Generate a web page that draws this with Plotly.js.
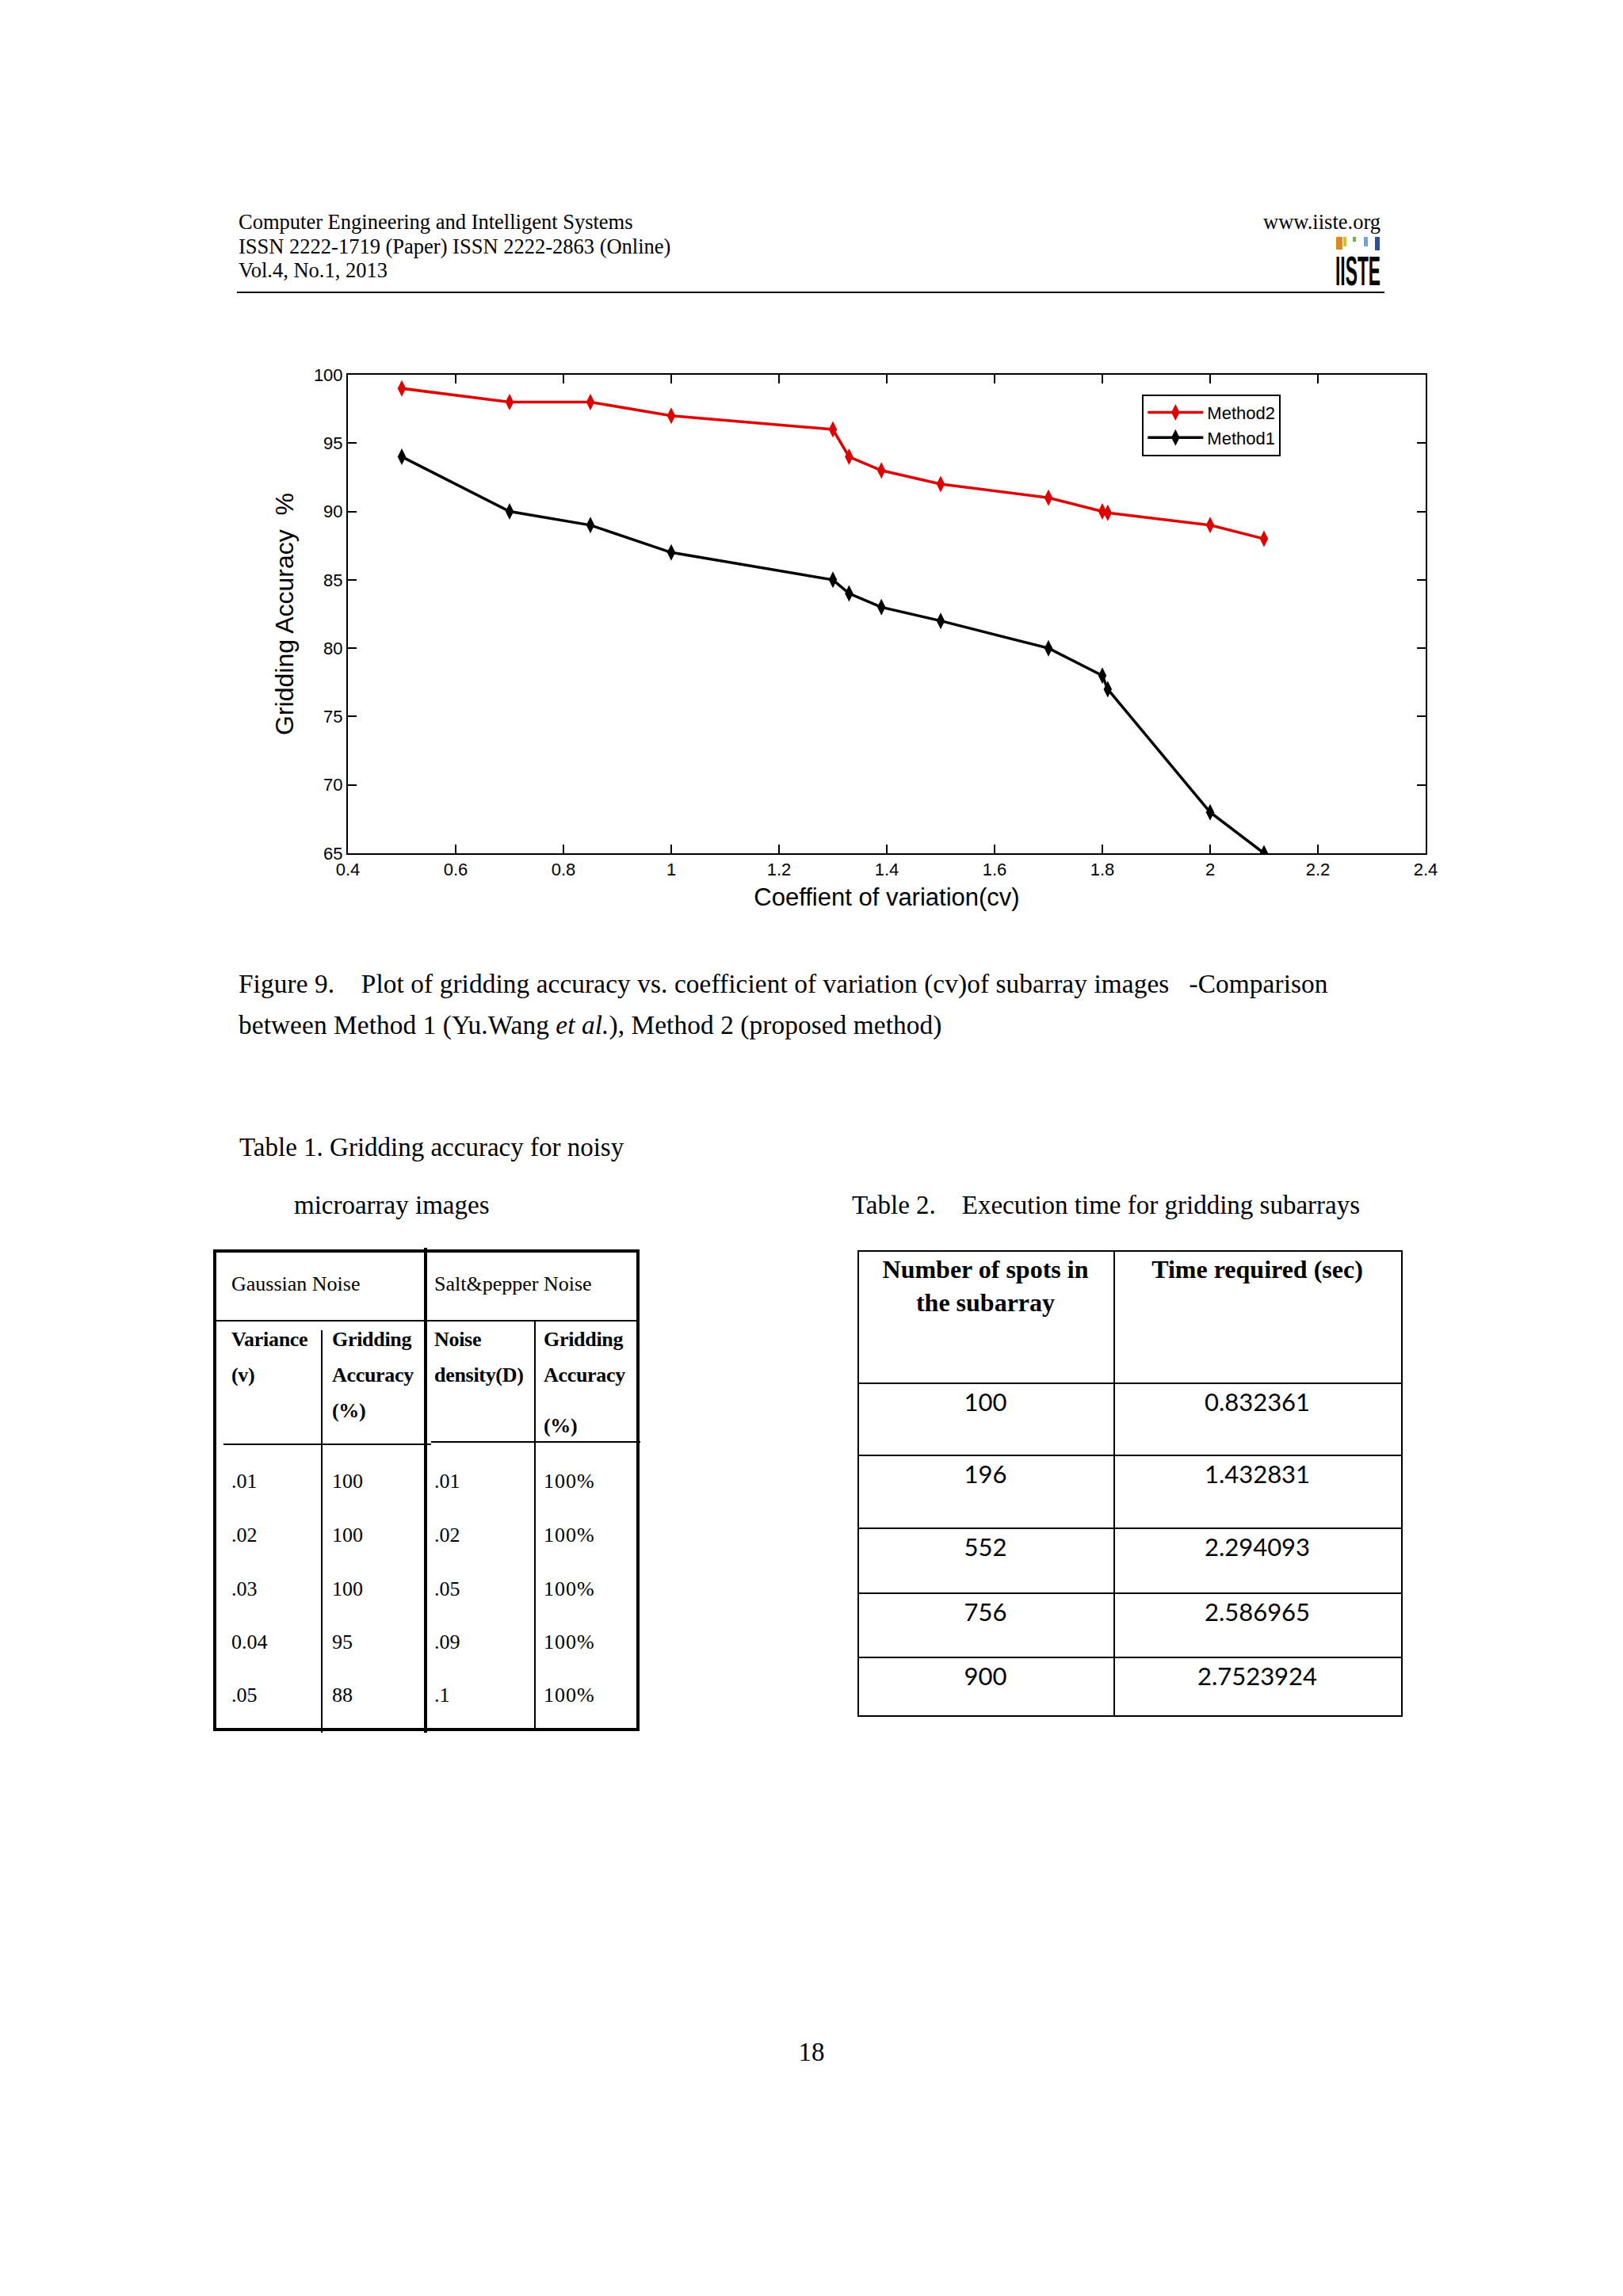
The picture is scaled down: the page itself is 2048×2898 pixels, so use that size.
<!DOCTYPE html>
<html>
<head>
<meta charset="utf-8">
<script src="https://cdn.plot.ly/plotly-3.0.1.min.js"></script>
<style>
  html, body { margin: 0; padding: 0; background: #fff; }
  #page { position: relative; width: 2048px; height: 2898px; background: #fff; overflow: hidden; }
  .serif { font-family: "Liberation Serif", "Times New Roman", serif; color: #000; }
  .abs { position: absolute; white-space: nowrap; }
  .ln { position: absolute; background: #000; }
  #chart { position: absolute; left: 300px; top: 420px; width: 1550px; height: 760px; }
</style>
</head>
<body>
<div id="page">
  <!-- Header -->
  <div class="abs serif" style="left:301px; top:265px; font-size:26.5px; line-height:30.5px;">
    Computer Engineering and Intelligent Systems<br>
    ISSN 2222-1719 (Paper) ISSN 2222-2863 (Online)<br>
    Vol.4, No.1, 2013
  </div>
  <div class="abs serif" style="left:1542px; width:200px; text-align:right; top:265px; font-size:26.5px; line-height:30.5px;">www.iiste.org</div>
  <!-- logo -->
  <div class="ln" style="left:1686px; top:299px; width:8px; height:16px; background:#d98a1c;"></div>
  <div class="ln" style="left:1695px; top:299px; width:4px; height:12px; background:#e3b820;"></div>
  <div class="ln" style="left:1707px; top:299px; width:4px; height:6px; background:#6bb34a;"></div>
  <div class="ln" style="left:1721px; top:299px; width:5px; height:12px; background:#6aa6d8;"></div>
  <div class="ln" style="left:1735px; top:299px; width:6px; height:17px; background:#2d4f9e;"></div>
  <div class="abs" style="left:1685px; top:316px; font-family:'Liberation Sans',Arial,sans-serif; font-weight:bold; font-size:30px; line-height:30px; transform:scale(0.76,1.75); transform-origin:left top; color:#000;">IISTE</div>
  <div class="ln" style="left:299px; top:368px; width:1448px; height:2px;"></div>

  <div id="chart"></div>

  <!-- Figure caption -->
  <div class="abs serif" style="left:301px; top:1223px; font-size:33.3px; line-height:38px; letter-spacing:0.1px;">Figure 9.&nbsp;&nbsp;&nbsp; Plot of gridding accuracy vs. coefficient of variation (cv)of subarray images &nbsp;&nbsp;-Comparison</div>
  <div class="abs serif" style="left:301px; top:1275px; font-size:33.3px; line-height:38px; letter-spacing:0.1px;">between Method 1 (Yu.Wang <i>et al.</i>), Method 2 (proposed method)</div>

  <!-- Table titles -->
  <div class="abs serif" style="left:302px; top:1429px; font-size:33px; line-height:38px;">Table 1. Gridding accuracy for noisy</div>
  <div class="abs serif" style="left:371px; top:1502px; font-size:33px; line-height:38px;">microarray images</div>
  <div class="abs serif" style="left:1075px; top:1502px; font-size:33px; line-height:38px;">Table 2.&nbsp;&nbsp;&nbsp; Execution time for gridding subarrays</div>

  <div id="tables"></div>

  <div class="abs serif" style="left:1004px; width:40px; text-align:center; top:2571px; font-size:33px; line-height:38px;">18</div>
</div>

<script>
// ---------------- Chart data ----------------
var cvValues      = [0.5, 0.7, 0.85, 1.0, 1.3, 1.33, 1.39, 1.5, 1.7, 1.8, 1.81, 2.0, 2.1];
var method2Acc    = [99, 98, 98, 97, 96, 94, 93, 92, 91, 90, 89.9, 89, 88];
var method1Acc    = [94, 90, 89, 87, 85, 84, 83, 82, 80, 78, 77, 68, 65];
var seriesNames   = ["Method2", "Method1"];
var xTickValues   = [0.4, 0.6, 0.8, 1, 1.2, 1.4, 1.6, 1.8, 2, 2.2, 2.4];
var yTickValues   = [65, 70, 75, 80, 85, 90, 95, 100];

// ---------------- Table 1 data ----------------
var t1GroupHeaders   = ["Gaussian Noise", "Salt&pepper Noise"];
var gaussVariance    = [".01", ".02", ".03", "0.04", ".05"];
var gaussAccuracy    = ["100", "100", "100", "95", "88"];
var spNoiseDensity   = [".01", ".02", ".05", ".09", ".1"];
var spAccuracy       = ["100%", "100%", "100%", "100%", "100%"];

// ---------------- Table 2 data ----------------
var t2Headers   = ["Number of spots in<br>the subarray", "Time required (sec)"];
var spotCounts  = ["100", "196", "552", "756", "900"];
var execTimes   = ["0.832361", "1.432831", "2.294093", "2.586965", "2.7523924"];

var axisFont = {family: "Liberation Sans, Arial, sans-serif", size: 22, color: "#000"};
var traces = [
  {x: cvValues, y: method2Acc, name: seriesNames[0], mode: "lines+markers",
   line: {color: "#e00000", width: 3.5},
   marker: {symbol: "diamond-tall", size: 15, color: "#e00000"}},
  {x: cvValues, y: method1Acc, name: seriesNames[1], mode: "lines+markers",
   line: {color: "#000000", width: 3.5},
   marker: {symbol: "diamond-tall", size: 15, color: "#000000"}}
];
var layout = {
  width: 1550, height: 760,
  margin: {l: 139, r: 51, t: 53, b: 103},
  paper_bgcolor: "rgba(0,0,0,0)", plot_bgcolor: "#fff",
  showlegend: true,
  legend: {x: 0.737, y: 0.959, xanchor: "left", yanchor: "top",
           bordercolor: "#000", borderwidth: 2, bgcolor: "#fff",
           itemwidth: 70,
           font: {family: "Liberation Sans, Arial, sans-serif", size: 22, color: "#000"},
           tracegroupgap: 0},
  xaxis: {range: [0.4, 2.4], tickvals: xTickValues, ticks: "inside", ticklen: 11,
          tickwidth: 2, tickcolor: "#000", showline: true, linecolor: "#000", linewidth: 2,
          mirror: "allticks", showgrid: false, zeroline: false, tickfont: axisFont,
          title: {text: "Coeffient of variation(cv)", standoff: 12,
                  font: {family: "Liberation Sans, Arial, sans-serif", size: 31, color: "#000"}}},
  yaxis: {range: [65, 100], tickvals: yTickValues, ticks: "inside", ticklen: 11,
          tickwidth: 2, tickcolor: "#000", showline: true, linecolor: "#000", linewidth: 2,
          mirror: "allticks", showgrid: false, zeroline: false, tickfont: axisFont,
          title: {text: "Gridding Accuracy  %", standoff: 16,
                  font: {family: "Liberation Sans, Arial, sans-serif", size: 32, color: "#000"}}}
};
Plotly.newPlot("chart", traces, layout, {displayModeBar: false, staticPlot: true});

// ---------------- Build tables ----------------
var host = document.getElementById("tables");
function line(x, y, w, h) {
  var d = document.createElement("div"); d.className = "ln";
  d.style.left = x + "px"; d.style.top = y + "px"; d.style.width = w + "px"; d.style.height = h + "px";
  host.appendChild(d);
}
function text(str, x, yc, opts) {
  opts = opts || {};
  var d = document.createElement("div"); d.className = "abs";
  var lh = opts.lh || 40;
  d.style.left = x + "px"; d.style.top = (yc - lh / 2) + "px";
  d.style.lineHeight = lh + "px";
  d.style.fontSize = (opts.size || 26) + "px";
  d.style.fontFamily = opts.family || "'Liberation Serif', 'Times New Roman', serif";
  if (opts.bold) d.style.fontWeight = "bold";
  if (opts.width) { d.style.width = opts.width + "px"; d.style.textAlign = "center"; }
  if (opts.ls) d.style.letterSpacing = opts.ls + "px";
  d.style.color = "#000";
  d.innerHTML = str;
  host.appendChild(d);
}

// Table 1 frame
line(269, 1577, 538, 4);          // top
line(269, 1577, 4, 608);          // left
line(803, 1577, 4, 608);          // right
line(269, 2181, 538, 4);          // bottom
line(535, 1575, 4, 612);          // middle thick divider
line(271, 1666, 534, 2);          // header bottom
line(405, 1679, 2, 508);          // col divider left
line(674, 1667, 2, 516);          // col divider right
line(282, 1822, 262, 2);          // subheader line left
line(544, 1819, 264, 2);          // subheader line right

text(t1GroupHeaders[0], 292, 1621);
text(t1GroupHeaders[1], 548, 1621);
var b = {bold: true, size: 26, ls: -0.3};
text("Variance", 292, 1691, b); text("(v)", 292, 1736, b);
text("Gridding", 419, 1691, b); text("Accuracy", 419, 1736, b); text("(%)", 419, 1781, b);
text("Noise", 548, 1691, b); text("density(D)", 548, 1736, b);
text("Gridding", 686, 1691, b); text("Accuracy", 686, 1736, b); text("(%)", 686, 1800, b);

var t1RowY = [1870, 1938, 2006, 2073, 2140];
for (var i = 0; i < gaussVariance.length; i++) {
  text(gaussVariance[i], 292, t1RowY[i]);
  text(gaussAccuracy[i], 419, t1RowY[i]);
  text(spNoiseDensity[i], 548, t1RowY[i]);
  text(spAccuracy[i], 686, t1RowY[i], {ls: 1});
}

// Table 2 frame
var t2Left = 1082, t2Mid = 1405, t2Right = 1768;
var t2Edges = [1579, 1746, 1837, 1929, 2011, 2092, 2166];
for (var k = 0; k < t2Edges.length; k++) line(t2Left, t2Edges[k] - 1, t2Right - t2Left + 2, 2);
line(t2Left, t2Edges[0], 2, t2Edges[6] - t2Edges[0]);
line(t2Mid, t2Edges[0], 2, t2Edges[6] - t2Edges[0]);
line(t2Right, t2Edges[0], 2, t2Edges[6] - t2Edges[0] + 1);

text(t2Headers[0], t2Left, 1602, {bold: true, size: 32, width: t2Mid - t2Left, lh: 42});
text(t2Headers[1], t2Mid, 1602, {bold: true, size: 32, width: t2Right - t2Mid, lh: 42});
var sans = {family: "Lato, 'Open Sans', sans-serif", size: 31};
for (var j = 0; j < spotCounts.length; j++) {
  var yc = t2Edges[j + 1] + 23;
  text(spotCounts[j], t2Left, yc, {family: sans.family, size: sans.size, width: t2Mid - t2Left});
  text(execTimes[j], t2Mid, yc, {family: sans.family, size: sans.size, width: t2Right - t2Mid});
}
</script>
</body>
</html>
